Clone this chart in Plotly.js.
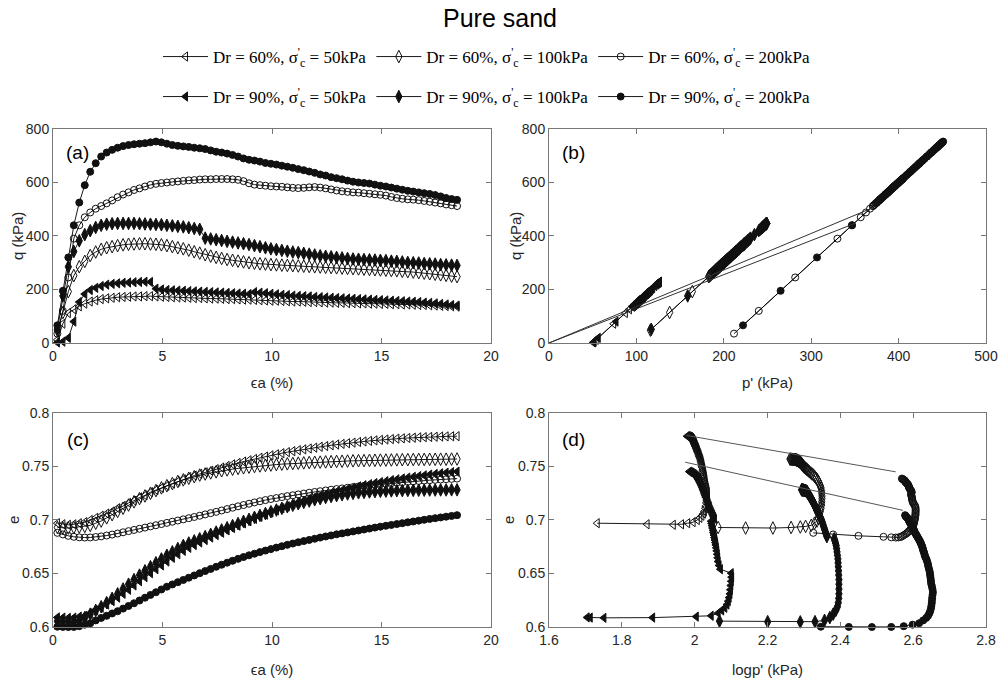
<!DOCTYPE html>
<html>
<head>
<meta charset="utf-8">
<script src="https://cdn.plot.ly/plotly-3.0.1.min.js"></script>
<style>
  html, body { margin: 0; padding: 0; background: #fff; }
  #chart { width: 1000px; height: 695px; }
</style>
</head>
<body>
<div id="chart"></div>
<script>
// Axial strain εa (%) at which each drained triaxial test was logged
const strain = [0.2,0.45,0.7,0.95,1.2,1.45,1.7,1.95,2.2,2.45,
  2.7,2.95,3.2,3.45,3.7,3.95,4.2,4.45,4.7,4.95,
  5.2,5.45,5.7,5.95,6.2,6.45,6.7,6.95,7.2,7.45,
  7.7,7.95,8.2,8.45,8.7,8.95,9.2,9.45,9.7,9.95,
  10.2,10.45,10.7,10.95,11.2,11.45,11.7,11.95,12.2,12.45,
  12.7,12.95,13.2,13.45,13.7,13.95,14.2,14.45,14.7,14.95,
  15.2,15.45,15.7,15.95,16.2,16.45,16.7,16.95,17.2,17.45,
  17.7,17.95,18.2,18.45];

// Deviator stress q (kPa)
const q60_50 = [12,72,112,126,137,147,155,160,164,167,
  169,171,172,173,174,174,175,175,174,173,
  172,171,170,170,169,168,168,167,166,166,
  165,164,164,163,162,162,161,160,159,158,
  158,157,156,155,155,154,153,153,152,151,
  151,150,150,149,149,148,148,147,147,146,
  146,145,145,144,144,143,142,142,141,140,
  139,138,137,136];
const q60_100 = [48,114,192,252,285,305,327,340,350,356,
  360,364,367,369,370,371,371,370,369,367,
  364,360,356,352,347,341,336,330,325,320,
  316,312,309,306,303,300,298,296,295,293,
  292,291,290,289,288,287,286,285,284,283,
  282,281,280,279,278,277,276,275,274,273,
  272,271,270,268,267,265,263,261,259,257,
  255,253,250,248];
const q60_200 = [35,120,245,390,440,470,488,502,512,522,
  533,545,555,563,572,578,585,591,595,598,
  600,602,604,606,608,609,611,612,612,613,
  613,613,612,610,605,597,592,590,588,586,
  585,584,582,580,579,580,582,583,581,578,
  574,570,567,565,563,562,560,558,556,554,
  551,546,542,539,537,536,534,531,528,525,
  522,518,515,512];
const q90_50 = [2,5,19,80,153,183,198,206,213,218,
  221,223,225,226,227,228,229,228,203,200,
  198,197,196,195,194,193,192,191,190,189,
  188,187,186,185,184,183,190,188,186,184,
  182,180,179,177,176,175,174,172,171,170,
  169,168,167,166,165,164,163,162,161,160,
  159,158,157,156,155,154,153,151,150,148,
  146,144,142,140];
const q90_100 = [51,176,285,342,382,405,420,432,440,444,
  446,447,447,447,447,446,445,444,443,442,
  440,438,436,434,431,428,425,392,389,386,
  383,380,377,374,371,368,364,360,356,352,
  349,346,343,340,338,335,332,329,326,324,
  322,320,318,316,314,313,312,311,310,309,
  308,306,305,303,301,300,299,297,296,295,
  293,292,291,290];
const q90_200 = [66,195,320,440,525,590,640,672,697,712,
  722,730,736,740,743,745,747,750,753,750,
  745,740,737,735,733,730,728,725,720,715,
  712,708,703,697,690,685,682,678,673,670,
  667,663,659,655,650,646,641,636,630,626,
  620,616,612,607,603,600,598,596,592,588,
  585,581,577,573,569,566,563,560,557,553,
  548,542,538,535];

// Void ratio e
const e60_50 = [0.697,0.696,0.6955,0.696,0.697,0.698,0.700,0.702,0.704,0.706,
  0.708,0.711,0.713,0.716,0.718,0.721,0.723,0.726,0.728,0.730,
  0.732,0.734,0.736,0.738,0.740,0.7415,0.743,0.7445,0.746,0.7475,
  0.749,0.7505,0.752,0.7533,0.7546,0.7558,0.757,0.7582,0.7593,0.7604,
  0.7614,0.7624,0.7634,0.7643,0.7652,0.766,0.7668,0.7676,0.7684,0.7691,
  0.7698,0.7705,0.7711,0.7717,0.7723,0.7729,0.7734,0.7739,0.7744,0.7748,
  0.7752,0.7756,0.776,0.7763,0.7766,0.7769,0.7772,0.7774,0.7776,0.7778,
  0.778,0.7781,0.7782,0.7783];
const e60_100 = [0.693,0.6925,0.6925,0.693,0.6935,0.694,0.695,0.697,0.699,0.702,
  0.705,0.708,0.711,0.714,0.717,0.720,0.7225,0.725,0.7275,0.730,
  0.732,0.734,0.736,0.7375,0.739,0.7405,0.742,0.743,0.744,0.745,
  0.746,0.7468,0.7475,0.7482,0.7488,0.7494,0.75,0.7505,0.751,0.7514,
  0.7518,0.7522,0.7525,0.7528,0.7531,0.7534,0.7537,0.7539,0.7541,0.7543,
  0.7545,0.7547,0.7549,0.7551,0.7553,0.7554,0.7555,0.7557,0.7558,0.7559,
  0.756,0.7561,0.7562,0.7563,0.7564,0.7565,0.7566,0.7566,0.7567,0.7567,
  0.7568,0.7568,0.7569,0.757];
const e60_200 = [0.688,0.6865,0.6852,0.6843,0.6838,0.6836,0.6837,0.6841,0.6847,0.6855,
  0.6864,0.6874,0.6885,0.6896,0.6907,0.6918,0.6929,0.694,0.6951,0.6962,
  0.6973,0.6984,0.6995,0.7006,0.7017,0.7028,0.704,0.7052,0.7064,0.7076,
  0.7089,0.7102,0.7115,0.7128,0.714,0.7152,0.7164,0.7175,0.7186,0.7196,
  0.7205,0.7214,0.7223,0.7231,0.7239,0.7247,0.7255,0.7262,0.7269,0.7276,
  0.7283,0.7289,0.7295,0.7301,0.7307,0.7313,0.7319,0.7324,0.7329,0.7334,
  0.7339,0.7344,0.7349,0.7353,0.7357,0.7361,0.7365,0.7369,0.7372,0.7375,
  0.7378,0.7381,0.7384,0.7387];
const e90_50 = [0.609,0.6088,0.6086,0.6088,0.6097,0.6105,0.613,0.6155,0.618,0.621,
  0.6242,0.6275,0.631,0.6348,0.6388,0.6428,0.6466,0.6503,0.654,0.6576,
  0.6612,0.6647,0.668,0.6712,0.674,0.6766,0.679,0.6813,0.6836,0.6859,
  0.6881,0.6903,0.6925,0.6947,0.6968,0.6989,0.701,0.703,0.705,0.707,
  0.709,0.711,0.7128,0.7146,0.7164,0.7181,0.7197,0.7212,0.7226,0.7239,
  0.7252,0.7265,0.7278,0.729,0.7302,0.7314,0.7325,0.7335,0.7345,0.7354,
  0.7363,0.7372,0.738,0.7388,0.7396,0.7403,0.741,0.7417,0.7424,0.743,
  0.7436,0.7442,0.7447,0.7452];
const e90_100 = [0.6055,0.605,0.6048,0.605,0.6062,0.6088,0.612,0.6155,0.619,0.6228,
  0.6268,0.631,0.6355,0.64,0.6443,0.6485,0.6525,0.6563,0.66,0.6636,
  0.667,0.6702,0.6733,0.6762,0.6785,0.6805,0.6825,0.6845,0.6866,0.6887,
  0.6907,0.6927,0.6947,0.6967,0.6987,0.7006,0.7025,0.7043,0.706,0.7077,
  0.7093,0.7109,0.7124,0.7138,0.7152,0.7165,0.7177,0.7189,0.72,0.721,
  0.7219,0.7228,0.7236,0.7243,0.7249,0.7254,0.7258,0.7262,0.7265,0.7268,
  0.727,0.7272,0.7274,0.7275,0.7276,0.7277,0.7278,0.7279,0.728,0.728,
  0.7281,0.7281,0.7282,0.7282];
const e90_200 = [0.6003,0.6001,0.6,0.6001,0.6008,0.6022,0.6035,0.6062,0.6085,0.6105,
  0.6127,0.6148,0.6172,0.6197,0.6222,0.6248,0.6274,0.63,0.6325,0.6351,
  0.6377,0.6398,0.6419,0.644,0.6461,0.6482,0.6503,0.6523,0.6543,0.6563,
  0.6582,0.6601,0.6619,0.6637,0.6654,0.667,0.6685,0.67,0.6714,0.6728,
  0.6742,0.6755,0.6768,0.678,0.6792,0.6803,0.6814,0.6825,0.6836,0.6846,
  0.6856,0.6866,0.6875,0.6884,0.6893,0.6902,0.6911,0.692,0.6929,0.6938,
  0.6946,0.6954,0.6962,0.697,0.6978,0.6986,0.6994,0.7002,0.701,0.7017,
  0.7024,0.7031,0.7038,0.7045];

// Critical-state lines: q–p' plane and e–logp' plane
const cslA_p = [0, 370], cslA_q = [0, 505];
const cslB_p = [0, 350], cslB_q = [0, 447];
const cslA_logp = [1.978, 2.552], cslA_e = [0.779, 0.745];
const cslB_logp = [1.974, 2.572], cslB_e = [0.754, 0.709];

const legendLabels = [
  "Dr = 60%, σ<sup>'</sup><sub>c</sub> = 50kPa",
  "Dr = 60%, σ<sup>'</sup><sub>c</sub> = 100kPa",
  "Dr = 60%, σ<sup>'</sup><sub>c</sub> = 200kPa",
  "Dr = 90%, σ<sup>'</sup><sub>c</sub> = 50kPa",
  "Dr = 90%, σ<sup>'</sup><sub>c</sub> = 100kPa",
  "Dr = 90%, σ<sup>'</sup><sub>c</sub> = 200kPa"
];
const confining = [50, 100, 200, 50, 100, 200];

const tests = [
  { q: q60_50,  e: e60_50,  symbol: 'triangle-left-open', size: 8, legend: 'legend'  },
  { q: q60_100, e: e60_100, symbol: 'diamond-tall-open',  size: 9, legend: 'legend'  },
  { q: q60_200, e: e60_200, symbol: 'circle-open',        size: 7, legend: 'legend'  },
  { q: q90_50,  e: e90_50,  symbol: 'triangle-left',      size: 8, legend: 'legend2' },
  { q: q90_100, e: e90_100, symbol: 'diamond-tall',       size: 9, legend: 'legend2' },
  { q: q90_200, e: e90_200, symbol: 'circle',             size: 7, legend: 'legend2' }
];

const traces = [];
tests.forEach((t, i) => {
  // mean effective stress in drained compression: p' = σ'c + q/3
  const pEff = t.q.map(v => confining[i] + v / 3);
  const logP = pEff.map(v => Math.log10(v));
  const base = {
    type: 'scatter', mode: 'lines+markers', cliponaxis: false,
    name: legendLabels[i], legendgroup: 'g' + i, legend: t.legend,
    line: { color: '#000', width: 0.9 },
    marker: { symbol: t.symbol, size: t.size, color: '#111',
              line: { color: '#111', width: 1 } }
  };
  traces.push(Object.assign({}, base, { x: strain, y: t.q, xaxis: 'x',  yaxis: 'y',  showlegend: true }));
  traces.push(Object.assign({}, base, { x: pEff,   y: t.q, xaxis: 'x2', yaxis: 'y2', showlegend: false }));
  traces.push(Object.assign({}, base, { x: strain, y: t.e, xaxis: 'x3', yaxis: 'y3', showlegend: false }));
  traces.push(Object.assign({}, base, { x: logP,   y: t.e, xaxis: 'x4', yaxis: 'y4', showlegend: false }));
});

const cslStyle = { type: 'scatter', mode: 'lines', showlegend: false, hoverinfo: 'skip',
                   line: { color: '#333', width: 1 } };
traces.push(Object.assign({}, cslStyle, { x: cslA_p, y: cslA_q, xaxis: 'x2', yaxis: 'y2' }));
traces.push(Object.assign({}, cslStyle, { x: cslB_p, y: cslB_q, xaxis: 'x2', yaxis: 'y2' }));
traces.push(Object.assign({}, cslStyle, { x: cslA_logp, y: cslA_e, xaxis: 'x4', yaxis: 'y4', line: { color: '#555', width: 1 } }));
traces.push(Object.assign({}, cslStyle, { x: cslB_logp, y: cslB_e, xaxis: 'x4', yaxis: 'y4', line: { color: '#555', width: 1 } }));

const sans = 'Liberation Sans, Arial, sans-serif';
const titleFont = { family: sans, size: 15, color: '#262626' };
function axis(opts) {
  return Object.assign({
    showline: true, mirror: 'ticks', linecolor: '#777', linewidth: 1,
    ticks: 'inside', ticklen: 5, tickcolor: '#777', showgrid: false, zeroline: false,
    tickfont: { family: sans, size: 14, color: '#262626' }
  }, opts);
}
function axTitle(text, standoff) {
  return { text: text, standoff: standoff, font: titleFont };
}

const colL = [0.053, 0.491], colR = [0.549, 0.986];
const rowT = [0.5065, 0.8144], rowB = [0.0978, 0.4058];

const legendBase = {
  orientation: 'h', xanchor: 'left', yanchor: 'middle', bgcolor: 'rgba(0,0,0,0)',
  itemwidth: 45, font: { family: 'Liberation Serif, Times New Roman, serif', size: 17, color: '#000' }
};

// panel tags
const panelTags = [
  ['(a)', 'x', 'y'], ['(b)', 'x2', 'y2'], ['(c)', 'x3', 'y3'], ['(d)', 'x4', 'y4']
].map((a, i) => ({
  text: a[0], xref: a[1] + ' domain', yref: a[2] + ' domain',
  x: 0.056, y: i < 2 ? 0.888 : 0.878, xanchor: 'center', yanchor: 'middle',
  showarrow: false, font: { family: sans, size: 19, color: '#000' }
}));

// vertical axis titles, placed beside the tick labels
const yTitles = [
  ['q (kPa)', 0.018, (rowT[0] + rowT[1]) / 2],
  ['q (kPa)', 0.516, (rowT[0] + rowT[1]) / 2],
  ['e', 0.014, (rowB[0] + rowB[1]) / 2],
  ['e', 0.509, (rowB[0] + rowB[1]) / 2]
].map(a => ({
  text: a[0], xref: 'paper', yref: 'paper', x: a[1], y: a[2],
  xanchor: 'center', yanchor: 'middle', textangle: -90,
  showarrow: false, font: titleFont
}));

const layout = {
  width: 1000, height: 695,
  margin: { l: 0, r: 0, t: 0, b: 0 },
  paper_bgcolor: '#fff', plot_bgcolor: '#fff',
  title: { text: 'Pure sand', x: 0.5, xanchor: 'center', y: 1 - 18 / 695, yanchor: 'middle',
           yref: 'container', font: { family: sans, size: 25, color: '#000' } },
  legend:  Object.assign({}, legendBase, { x: 0.158, y: 1 - 57 / 695 }),
  legend2: Object.assign({}, legendBase, { x: 0.158, y: 1 - 97 / 695 }),
  xaxis:  axis({ domain: colL, anchor: 'y',  range: [0, 20],  dtick: 5,   title: axTitle('ϵa (%)', 14) }),
  yaxis:  axis({ domain: rowT, anchor: 'x',  range: [0, 800], dtick: 200 }),
  xaxis2: axis({ domain: colR, anchor: 'y2', range: [0, 500], dtick: 100, title: axTitle("p' (kPa)", 14) }),
  yaxis2: axis({ domain: rowT, anchor: 'x2', range: [0, 800], dtick: 200 }),
  xaxis3: axis({ domain: colL, anchor: 'y3', range: [0, 20],  dtick: 5,   title: axTitle('ϵa (%)', 17) }),
  yaxis3: axis({ domain: rowB, anchor: 'x3', range: [0.6, 0.8], dtick: 0.05 }),
  xaxis4: axis({ domain: colR, anchor: 'y4', range: [1.6, 2.8], dtick: 0.2, title: axTitle("logp' (kPa)", 17) }),
  yaxis4: axis({ domain: rowB, anchor: 'x4', range: [0.6, 0.8], dtick: 0.05 }),
  annotations: panelTags.concat(yTitles),
  showlegend: true
};

Plotly.newPlot('chart', traces, layout, { displayModeBar: false, staticPlot: true });
</script>
</body>
</html>
